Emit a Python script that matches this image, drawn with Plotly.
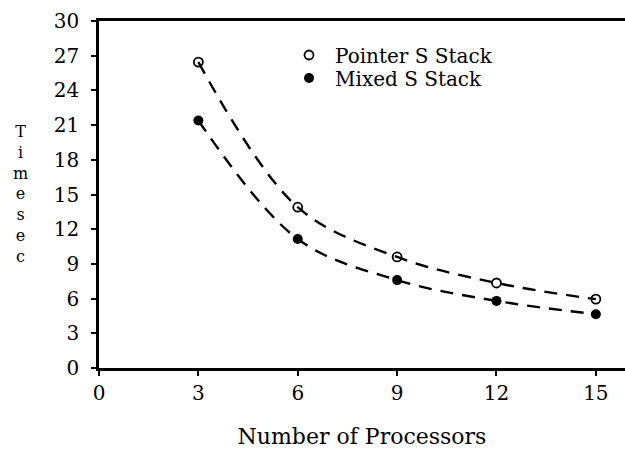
import plotly.graph_objects as go

# ---- data ----
processors = [3, 6, 9, 12, 15]
pointer_s_stack = [26.45, 13.9, 9.6, 7.35, 5.95]
mixed_s_stack = [21.4, 11.15, 7.6, 5.8, 4.65]
x_ticks = [0, 3, 6, 9, 12, 15]
y_ticks = [0, 3, 6, 9, 12, 15, 18, 21, 24, 27, 30]
series_names = ["Pointer S Stack", "Mixed S Stack"]
y_title_letters = ["T", "i", "m", "e", "s", "e", "c"]

W, H = 625, 450
L, R, T, B = 99, 0, 21, 82
FONT = "DejaVu Serif"


def px_to_paper(px, py):
    return (px - L) / (W - L - R), 1 - (py - T) / (H - T - B)


fig = go.Figure()
dash = "13px,9px"
fig.add_trace(go.Scatter(
    x=processors, y=pointer_s_stack, mode="lines+markers",
    line=dict(color="black", width=2.4, dash=dash, shape="spline", smoothing=1.0),
    marker=dict(symbol="circle-open", size=9, color="black", line=dict(width=1.8, color="black")),
    showlegend=False))
fig.add_trace(go.Scatter(
    x=processors, y=mixed_s_stack, mode="lines+markers",
    line=dict(color="black", width=2.4, dash=dash, shape="spline", smoothing=1.0),
    marker=dict(symbol="circle", size=10, color="black"),
    showlegend=False))

# legend entries (marker only)
fig.add_trace(go.Scatter(x=[None], y=[None], mode="markers", name=series_names[0],
                         marker=dict(symbol="circle-open", size=9, color="black", line=dict(width=1.8, color="black")),
                         legend="legend"))
fig.add_trace(go.Scatter(x=[None], y=[None], mode="markers", name=series_names[1],
                         marker=dict(symbol="circle", size=10, color="black"),
                         legend="legend2"))

lx1, ly1 = px_to_paper(283, 55)
lx2, ly2 = px_to_paper(283, 78)
leg_common = dict(font=dict(family=FONT, size=20, color="black"), bgcolor="rgba(0,0,0,0)",
                  xanchor="left", yanchor="middle", itemwidth=42, borderwidth=0,
                  tracegroupgap=0)
fig.update_layout(
    legend=dict(x=lx1, y=ly1, **leg_common),
    legend2=dict(x=lx2, y=ly2, **leg_common),
)

# y axis title as vertically stacked letters (one text block)
ax, ay = px_to_paper(20, 194)
fig.add_annotation(text="<br>".join(y_title_letters), x=ax, y=ay, xref="paper", yref="paper",
                   showarrow=False, xanchor="center", yanchor="middle", align="center",
                   font=dict(family=FONT, size=16, color="black"))

fig.update_layout(
    width=W, height=H,
    margin=dict(l=L, r=R, t=T, b=B, pad=0, autoexpand=False),
    paper_bgcolor="white", plot_bgcolor="white",
    font=dict(family=FONT, color="black"),
    xaxis=dict(range=[0, 15.88], tickvals=x_ticks, ticktext=[str(v) for v in x_ticks],
               automargin=False,
               showgrid=False, zeroline=False, showline=True, linecolor="black", linewidth=2.5,
               mirror=True, ticks="outside", ticklen=5, tickwidth=2, tickcolor="black",
               tickfont=dict(family=FONT, size=20, color="black"),
               title=dict(text="Number of Processors", font=dict(family=FONT, size=22, color="black"),
                          standoff=25)),
    yaxis=dict(range=[0, 30], tickvals=y_ticks, ticktext=[str(v) for v in y_ticks],
               automargin=False,
               showgrid=False, zeroline=False, showline=True, linecolor="black", linewidth=2.5,
               ticks="outside", ticklen=5, tickwidth=2, tickcolor="black",
               ticklabelstandoff=8,
               tickfont=dict(family=FONT, size=20, color="black")),
)

fig.write_html("out.html", config={"displayModeBar": False},
               post_script="document.body.style.margin='0px';document.body.style.padding='0px';")
